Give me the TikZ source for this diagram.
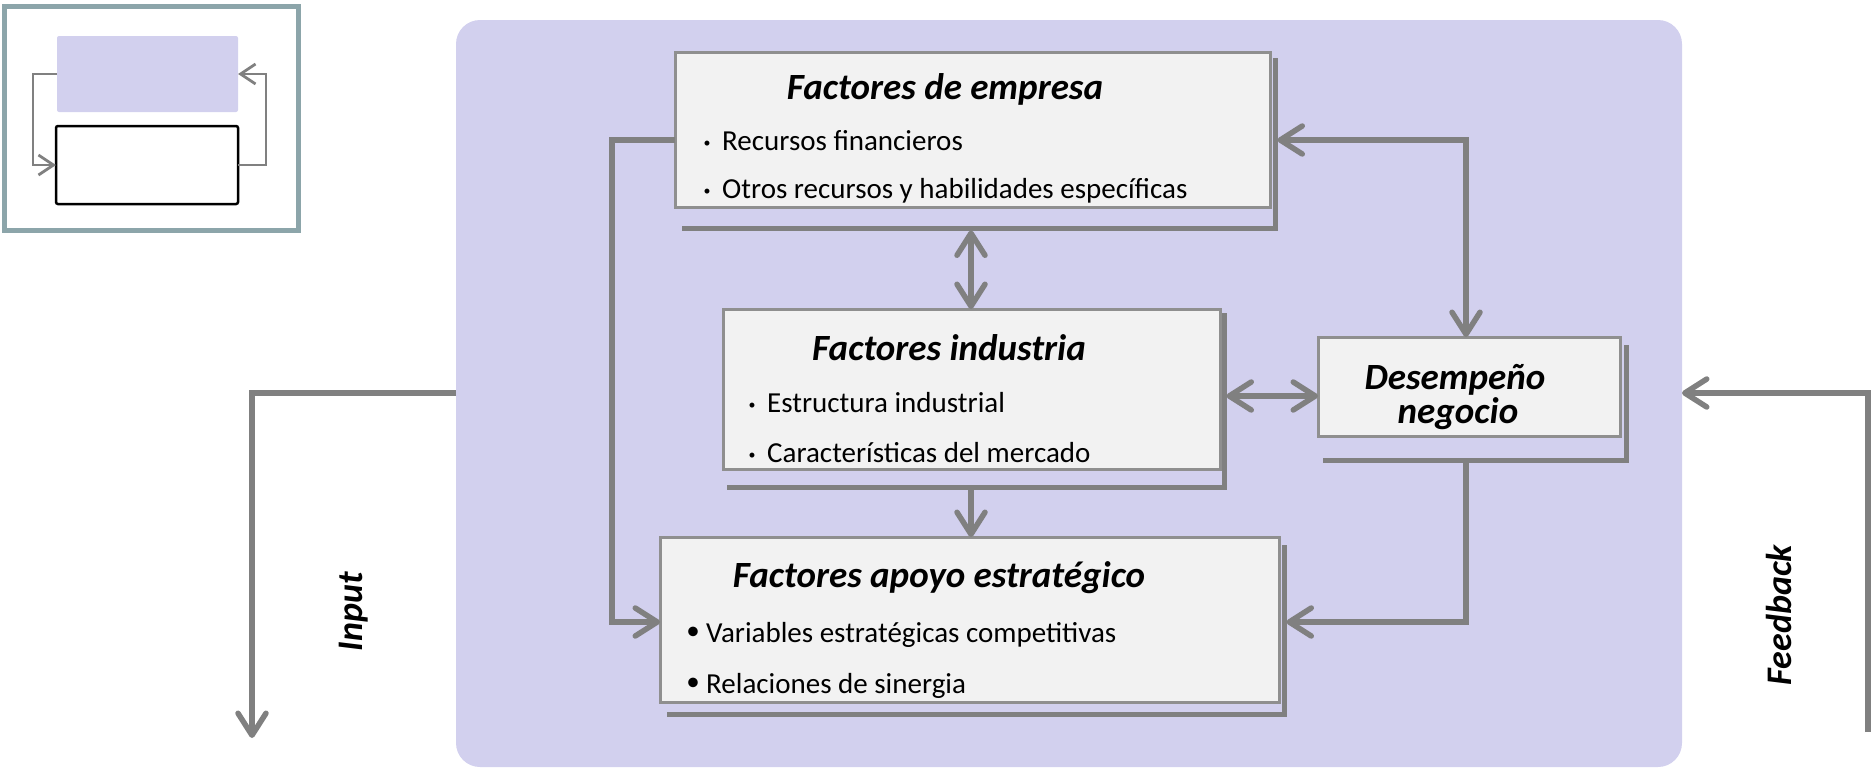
\documentclass[tikz,border=0pt]{standalone}
\usepackage{fontspec}
\setmainfont{Carlito}
\usetikzlibrary{arrows.meta}
\definecolor{lav}{HTML}{D2D0EE}
\definecolor{boxfill}{HTML}{F2F2F2}
\definecolor{boxline}{HTML}{8F8F8F}
\definecolor{conncol}{HTML}{808080}
\definecolor{framecol}{HTML}{8CA5AA}
\begin{document}
\begin{tikzpicture}[x=1pt,y=-1pt,
  box/.style={draw=boxline, line width=3pt, fill=boxfill, inner sep=0pt, outer sep=0pt, anchor=north west},
  shad/.style={draw=conncol, line width=5pt},
  conn/.style={draw=conncol, line width=5.5pt, >={Straight Barb[length=22pt,width=28pt,round]}},
  iconn/.style={draw=conncol, line width=2.8pt, >={Straight Barb[length=15pt,width=20pt]}},
  ttl/.style={font=\fontsize{37}{42}\selectfont\bfseries\itshape, inner sep=0pt, anchor=base},
  itm/.style={font=\fontsize{29}{34}\selectfont, inner sep=0pt, anchor=base west},
  sdot/.style={font=\fontsize{14}{14}\selectfont, inner sep=0pt, anchor=center},
  bdot/.style={font=\fontsize{27}{27}\selectfont, inner sep=0pt, anchor=center},
  side/.style={font=\fontsize{36}{40}\selectfont\bfseries\itshape, inner sep=0pt, rotate=90, anchor=center}
]
\useasboundingbox (0,0) rectangle (1875,771);

% icon
\node[draw=framecol, line width=5pt, minimum width=294pt, minimum height=223.5pt, anchor=north west, inner sep=0pt, outer sep=0pt] (frame) at (4,6.5) {};
\node[fill=lav, rounded corners=2pt, minimum width=181pt, minimum height=76pt, anchor=north west, inner sep=0pt, outer sep=0pt] (il) at (57,36) {};
\node[draw=black, line width=2.5pt, fill=white, rounded corners=2pt, minimum width=182pt, minimum height=78pt, anchor=north west, inner sep=0pt, outer sep=0pt] (iw) at (56,126) {};
\coordinate (ixl) at (33,0);
\coordinate (ixr) at (266,0);
\draw[iconn,->] (il.west) -- (ixl |- il.west) -- (ixl |- iw.west) -- (iw.west);
\draw[iconn,->] (iw.east) -- (ixr |- iw.east) -- (ixr |- il.east) -- (il.east);

% background
\node[fill=lav, rounded corners=24pt, minimum width=1226pt, minimum height=747pt, anchor=north west, inner sep=0pt, outer sep=0pt] (bg) at (456,20) {};

% shadows (drawn first, boxes on top)
\coordinate (b1sw) at (675,207);
\coordinate (b1ne) at (1270,52);
\coordinate (b2sw) at (723,469);
\coordinate (b2ne) at (1220,309);
\coordinate (b3sw) at (660,702);
\coordinate (b3ne) at (1279,537);
\coordinate (b4sw) at (1318,436);
\coordinate (b4ne) at (1620,337);
\draw[shad] ([xshift=7pt,yshift=-21pt]b1sw) -| ([xshift=5pt,yshift=-6pt]b1ne);
\draw[shad] ([xshift=4pt,yshift=-18pt]b2sw) -| ([xshift=4pt,yshift=-4pt]b2ne);
\draw[shad] ([xshift=7pt,yshift=-12pt]b3sw) -| ([xshift=5pt,yshift=-8pt]b3ne);
\draw[shad] ([xshift=5pt,yshift=-24pt]b4sw) -| ([xshift=6pt,yshift=-8pt]b4ne);

% boxes
\node[box, minimum width=595pt, minimum height=155pt] (b1) at (675,52) {};
\node[box, minimum width=497pt, minimum height=160pt] (b2) at (723,309) {};
\node[box, minimum width=619pt, minimum height=165pt] (b3) at (660,537) {};
\node[box, minimum width=302pt, minimum height=99pt] (b4) at (1318,337) {};
\coordinate (s1) at ([xshift=7.5pt,yshift=-23.5pt]b1.south east);
\coordinate (s2) at ([xshift=6.5pt,yshift=-20.5pt]b2.south east);
\coordinate (s3) at ([xshift=7.5pt,yshift=-14.5pt]b3.south east);
\coordinate (s4) at ([xshift=8.5pt,yshift=-26.5pt]b4.south east);

% texts
\node[ttl] (t1) at (945,99) {Factores de empresa};
\node[sdot] (d11) at (707,144) {•};
\node[itm] (i11) at (722,150) {Recursos financieros};
\node[sdot] (d12) at (707,192) {•};
\node[itm] (i12) at (722,198) {Otros recursos y habilidades específicas};

\node[ttl] (t2) at (949,360) {Factores industria};
\node[sdot] (d21) at (752,406) {•};
\node[itm] (i21) at (767,412) {Estructura industrial};
\node[sdot] (d22) at (752,456) {•};
\node[itm] (i22) at (767,462) {Características del mercado};

\node[ttl] (t3) at (939,587) {Factores apoyo estratégico};
\node[bdot] (d31) at (693,633) {•};
\node[itm] (i31) at (706,642) {Variables estratégicas competitivas};
\node[bdot] (d32) at (693,684) {•};
\node[itm] (i32) at (706,693) {Relaciones de sinergia};

\node[ttl] (n1) at (1455,389) {Desempeño};
\node[ttl] (n2) at (1458,423) {negocio};

\node[side] (inp) at (354,612) {Input};
\node[side] (fb) at (1779,615) {Feedback};

% connectors
\coordinate (yA) at (0,140);
\coordinate (yB) at (0,622);
\coordinate (xL) at (612,0);
\coordinate (xM) at (971,0);
\coordinate (xR) at (1466,0);
\coordinate (yD) at (0,396);
\coordinate (yIO) at (0,393);
\coordinate (xIn) at (252,0);
\coordinate (xFb) at (1868,0);
\coordinate (inEnd) at (252,738);
\coordinate (fbStart) at (1868,732);

\draw[conn,->] (b1.west |- yA) -- (xL |- yA) -- (xL |- yB) -- (b3.west |- yB);
\draw[conn,<->] (xM |- s1) -- (xM |- b2.north);
\draw[conn,->] (xM |- s2) -- (xM |- b3.north);
\draw[conn,<->] (s2 |- yD) -- (b4.west |- yD);
\draw[conn,<->] (s1 |- yA) -- (xR |- yA) -- (xR |- b4.north);
\draw[conn,->] (xR |- s4) -- (xR |- yB) -- (s3 |- yB);
\draw[conn,->] (bg.west |- yIO) -- (xIn |- yIO) -- (inEnd);
\draw[conn,->] (fbStart) -- (xFb |- yIO) -- (bg.east |- yIO);
\end{tikzpicture}
\end{document}
